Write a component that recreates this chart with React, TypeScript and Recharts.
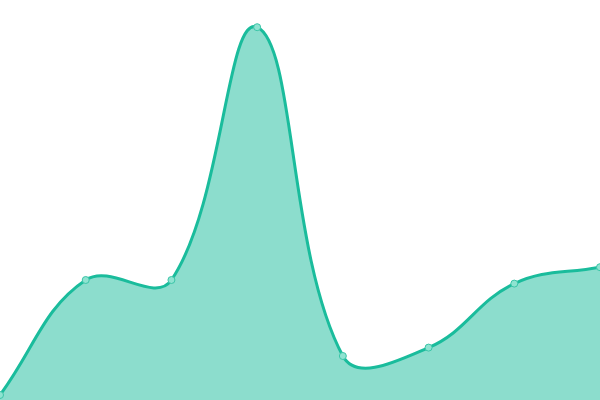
import React from 'react';
import { AreaChart, Area, XAxis, YAxis } from 'recharts';

const CATEGORIES = ['A', 'B', 'C', 'D', 'E', 'F', 'G', 'H'];
const VALUES = [1.25, 30, 30, 93.2, 11, 13.1, 29.1, 33.2];

const data = CATEGORIES.map((name, i) => ({ name, value: VALUES[i] }));

// spline with distance-weighted control points (tension 0.4)
const splineCurve = (tension: number) => (context: any) => {
  let pts: number[][] = [];
  let line: number | undefined;
  return {
    areaStart() { line = 0; },
    areaEnd() { line = NaN; },
    lineStart() { pts = []; },
    point(x: number, y: number) { pts.push([+x, +y]); },
    lineEnd() {
      const n = pts.length;
      if (n) {
        if (line) context.lineTo(pts[0][0], pts[0][1]);
        else context.moveTo(pts[0][0], pts[0][1]);
        const ctrl = pts.map((cur, i) => {
          const prev = pts[i - 1] || cur;
          const next = pts[i + 1] || cur;
          const d01 = Math.hypot(cur[0] - prev[0], cur[1] - prev[1]);
          const d12 = Math.hypot(next[0] - cur[0], next[1] - cur[1]);
          const sum = d01 + d12;
          const fa = sum ? (tension * d01) / sum : 0;
          const fb = sum ? (tension * d12) / sum : 0;
          const dx = next[0] - prev[0];
          const dy = next[1] - prev[1];
          return {
            prev: [cur[0] - fa * dx, cur[1] - fa * dy],
            next: [cur[0] + fb * dx, cur[1] + fb * dy],
          };
        });
        for (let i = 0; i < n - 1; i++) {
          const a = ctrl[i].next;
          const b = ctrl[i + 1].prev;
          context.bezierCurveTo(a[0], a[1], b[0], b[1], pts[i + 1][0], pts[i + 1][1]);
        }
      }
      if (line || (line !== 0 && n === 1)) context.closePath();
      line = 1 - (line as number);
    },
  };
};

const curve = splineCurve(0.4);

export default function App() {
  return (
    <div style={{ position: 'fixed', left: 0, top: 0, width: 600, height: 400, background: '#fff' }}>
      <AreaChart width={600} height={400} data={data} margin={{ top: 0, right: 0, bottom: 0, left: 0 }}>
        <XAxis dataKey="name" hide />
        <YAxis hide domain={[0, 100]} />
        <Area
          type={curve as any}
          dataKey="value"
          stroke="#1abc9c"
          strokeWidth={3}
          fill="#1abc9c"
          fillOpacity={0.5}
          dot={{ r: 3.5, fill: '#8fe3d1', stroke: '#3cc5a8', strokeWidth: 1, fillOpacity: 1 }}
          activeDot={false}
          isAnimationActive={false}
        />
      </AreaChart>
    </div>
  );
}
